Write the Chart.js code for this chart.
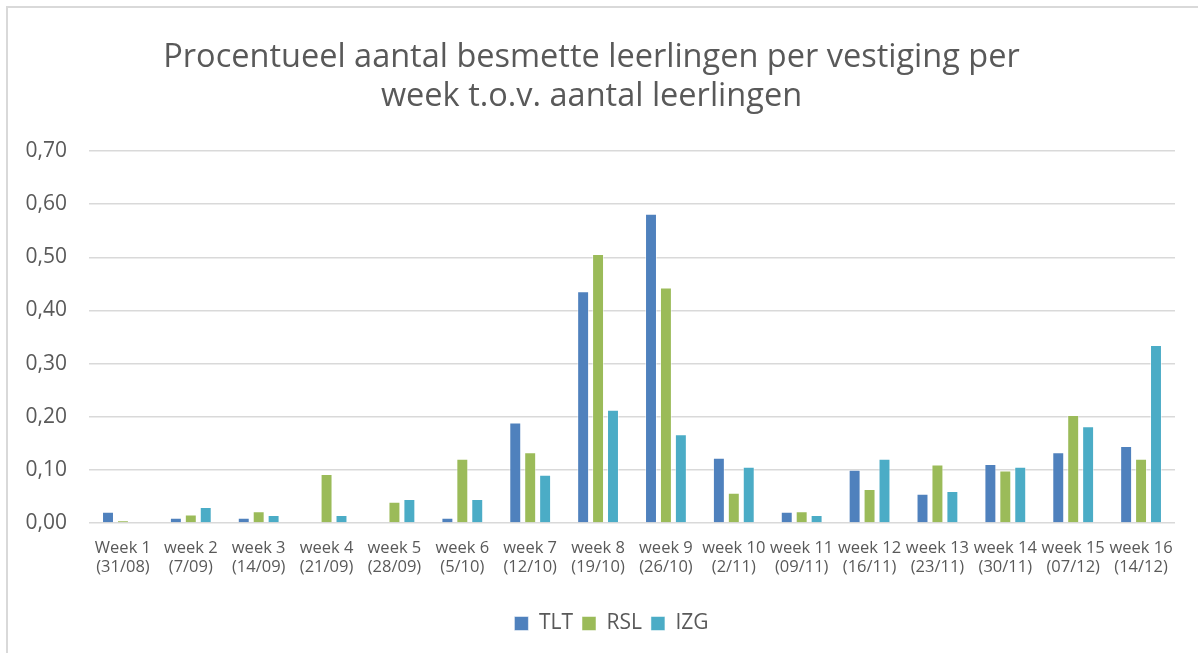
<!DOCTYPE html>
<html>
<head>
<meta charset="utf-8">
<script src="https://cdn.jsdelivr.net/npm/chart.js@4.4.0/dist/chart.umd.min.js"></script>
<style>
    html, body { margin: 0; padding: 0; background: #fff; }
    #wrap { position: relative; width: 1198px; height: 653px; }
    #frame {
        position: absolute; left: 6px; top: 6px; right: 0; bottom: 0;
        border-top: 2px solid #d9d9d9; border-left: 2px solid #d9d9d9;
    }
    canvas { position: absolute; left: 0; top: 0; }
</style>
</head>
<body>
<div id="wrap">
    <div id="frame"></div>
    <canvas id="chart" width="1198" height="653"></canvas>
</div>
<script>
const weeks = ["Week 1", "week 2", "week 3", "week 4", "week 5", "week 6", "week 7", "week 8",
    "week 9", "week 10", "week 11", "week 12", "week 13", "week 14", "week 15", "week 16"];
const dates = ["(31/08)", "(7/09)", "(14/09)", "(21/09)", "(28/09)", "(5/10)", "(12/10)", "(19/10)",
    "(26/10)", "(2/11)", "(09/11)", "(16/11)", "(23/11)", "(30/11)", "(07/12)", "(14/12)"];

const tlt = [0.021, 0.010, 0.010, 0, 0, 0.010, 0.189, 0.436, 0.582, 0.123, 0.021, 0.100, 0.055, 0.111, 0.133, 0.145];
const rsl = [0.005, 0.016, 0.022, 0.092, 0.040, 0.121, 0.133, 0.506, 0.443, 0.057, 0.022, 0.064, 0.110, 0.099, 0.203, 0.121];
const izg = [0, 0.030, 0.015, 0.015, 0.045, 0.045, 0.091, 0.213, 0.167, 0.106, 0.015, 0.121, 0.060, 0.106, 0.182, 0.335];

const textColor = "#595959";
const font = "'Open Sans', sans-serif";

const labels = weeks.map((w, i) => [w, dates[i]]);

const mk = (label, data, color) => ({
    label: label,
    data: data,
    backgroundColor: color,
    borderColor: "rgba(255,255,255,0.5)",
    borderWidth: 1,
    barPercentage: 0.8,
    categoryPercentage: 0.66
});

// legend in the original sits a bit right of the plot's centre
const shiftLegend = {
    id: "shiftLegend",
    afterLayout(chart) {
        chart.legend.left += 20;
        chart.legend.right += 20;
    }
};

new Chart(document.getElementById("chart"), {
    type: "bar",
    data: {
        labels: labels,
        datasets: [
            mk("TLT", tlt, "#4f81bd"),
            mk("RSL", rsl, "#9bbb59"),
            mk("IZG", izg, "#4bacc6")
        ]
    },
    plugins: [shiftLegend],
    options: {
        responsive: false,
        animation: false,
        layout: { padding: { left: 8, right: 23, top: 38, bottom: 9 } },
        plugins: {
            title: {
                display: true,
                text: ["Procentueel aantal besmette leerlingen per vestiging per", "week t.o.v. aantal leerlingen"],
                color: textColor,
                font: { family: font, size: 32.5, weight: "normal" },
                lineHeight: 1.34,
                padding: { top: 0, bottom: 35 }
            },
            legend: {
                position: "bottom",
                labels: {
                    color: textColor,
                    font: { family: font, size: 21 },
                    boxWidth: 14,
                    boxHeight: 14,
                    padding: 9
                }
            },
            tooltip: { enabled: false }
        },
        scales: {
            x: {
                afterFit: s => { s.height = 81; },
                grid: { display: false },
                border: { display: false },
                ticks: {
                    color: textColor,
                    font: { family: font, size: 16.5 },
                    maxRotation: 0,
                    autoSkip: false,
                    padding: 7
                }
            },
            y: {
                min: 0,
                max: 0.7,
                afterFit: s => { s.width = 81; },
                grid: { color: "#d9d9d9", lineWidth: 1.5, drawTicks: false },
                border: { display: false },
                ticks: {
                    stepSize: 0.1,
                    color: textColor,
                    font: { family: font, size: 21 },
                    padding: 22,
                    callback: v => v.toFixed(2).replace(".", ",")
                }
            }
        }
    }
});
</script>
</body>
</html>
